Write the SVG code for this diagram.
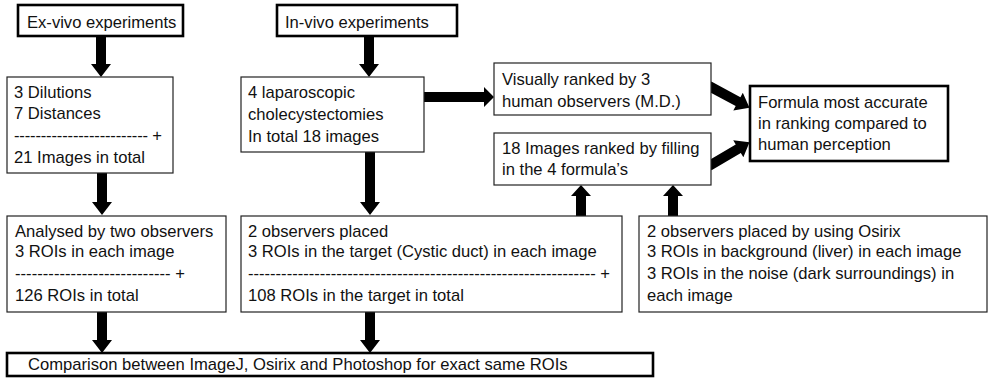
<svg xmlns="http://www.w3.org/2000/svg" width="988" height="388" viewBox="0 0 988 388">
<style>
text{font-family:"Liberation Sans",Arial,sans-serif;font-size:16.6px;fill:#111}
.thin{fill:#fff;stroke:#222;stroke-width:1.2}
.thick{fill:#fff;stroke:#000;stroke-width:2.6}
.arr{fill:#000}
</style>
<defs>
<polygon id="dn" points="-5,0 5,0 5,-12 10,-12 0,0"/>
</defs>
<rect width="988" height="388" fill="#fff"/>
<g id="connectors" class="arr">
<polygon points="96,36 106,36 106,64 111,64 101,77 91,64 96,64"/>
<polygon points="97,173 107,173 107,202 112,202 102,215 92,202 97,202"/>
<polygon points="97,312 107,312 107,340 112,340 102,353 92,340 97,340"/>
<polygon points="364,36 374,36 374,64 379,64 369,77 359,64 364,64"/>
<polygon points="365,152 375,152 375,202 380,202 370,215 360,202 365,202"/>
<polygon points="365,312 375,312 375,340 380,340 370,353 360,340 365,340"/>
<polygon points="424,92 484,92 484,87 494,97 484,107 484,102 424,102"/>
<polygon points="576,216 576,196 571,196 581,185 591,196 586,196 586,216"/>
<polygon points="668,216 668,196 663,196 673,185 683,196 678,196 678,216"/>
<g transform="translate(709,86) rotate(28.3)"><polygon points="0,-5 33,-5 33,-10 46,0 33,10 33,5 0,5"/></g>
<g transform="translate(709,166) rotate(-30.5)"><polygon points="0,-5 34,-5 34,-10 47,0 34,10 34,5 0,5"/></g>
</g>
<g id="exvivo"><rect class="thick" x="18" y="5" width="165" height="31"/><text x="27" y="28">Ex-vivo experiments</text></g>
<g id="invivo"><rect class="thick" x="277" y="5" width="180" height="31"/><text x="285" y="28">In-vivo experiments</text></g>
<g id="dilutions"><rect class="thin" x="7" y="77" width="166" height="96"/>
<text x="14" y="98">3 Dilutions</text><text x="14" y="119">7 Distances</text>
<text x="14" y="141" textLength="148" lengthAdjust="spacing">------------------------- +</text>
<text x="14" y="163">21 Images in total</text></g>
<g id="laparoscopic"><rect class="thin" x="241" y="77" width="183" height="75"/>
<text x="248" y="98">4 laparoscopic</text><text x="248" y="120">cholecystectomies</text><text x="248" y="142">In total 18 images</text></g>
<g id="visually"><rect class="thin" x="494" y="63" width="217" height="52"/>
<text x="502" y="85">Visually ranked by 3</text><text x="502" y="107">human observers (M.D.)</text></g>
<g id="ranked"><rect class="thin" x="494" y="133" width="217" height="52"/>
<text x="502" y="154">18 Images ranked by filling</text><text x="502" y="175">in the 4 formula’s</text></g>
<g id="formula"><rect class="thick" x="750" y="86" width="198" height="75"/>
<text x="758" y="108">Formula most accurate</text><text x="758" y="129">in ranking compared to</text><text x="758" y="150">human perception</text></g>
<g id="analysed"><rect class="thin" x="7" y="216" width="219" height="96"/>
<text x="15" y="237">Analysed by two observers</text><text x="15" y="257">3 ROIs in each image</text>
<text x="15" y="279" textLength="170" lengthAdjust="spacing">---------------------------- +</text>
<text x="15" y="301">126 ROIs in total</text></g>
<g id="placed"><rect class="thin" x="241" y="216" width="381" height="96"/>
<text x="248" y="237">2 observers placed</text><text x="248" y="257">3 ROIs in the target (Cystic duct) in each image</text>
<text x="248" y="279" textLength="362" lengthAdjust="spacing">--------------------------------------------------------------- +</text>
<text x="248" y="301">108 ROIs in the target in total</text></g>
<g id="osirix"><rect class="thin" x="639" y="216" width="348" height="96"/>
<text x="647" y="237">2 observers placed by using Osirix</text><text x="647" y="257">3 ROIs in background (liver) in each image</text>
<text x="647" y="279">3 ROIs in the noise (dark surroundings) in</text><text x="647" y="301">each image</text></g>
<g id="comparison"><rect class="thick" x="7" y="353" width="646" height="23"/>
<text x="28" y="370">Comparison between ImageJ, Osirix and Photoshop for exact same ROIs</text></g>
</svg>
